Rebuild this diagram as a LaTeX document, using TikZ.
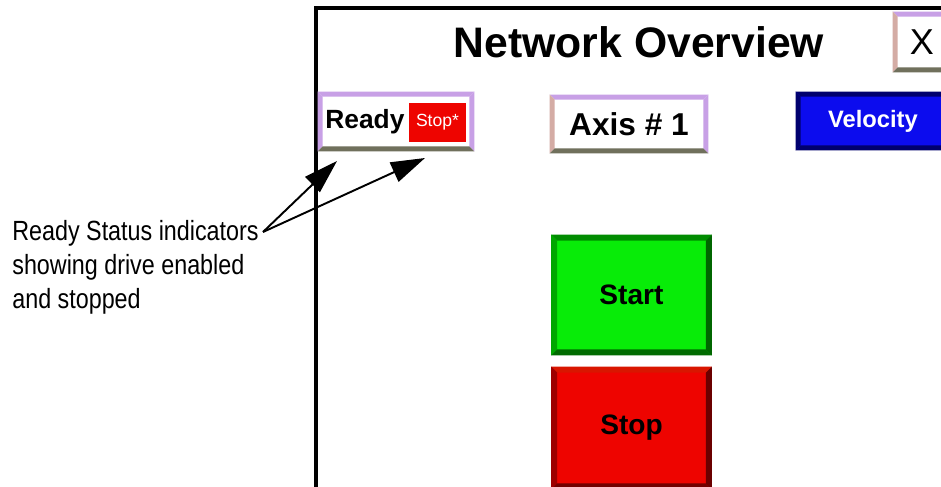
\documentclass[tikz,border=0pt]{standalone}
\usepackage{fontspec}
\setmainfont{Liberation Sans}
\newfontfamily\notefont[FakeStretch=0.84]{Liberation Sans}
\usetikzlibrary{arrows.meta}

\definecolor{lavender}{RGB}{200,160,230}
\definecolor{rosetan}{RGB}{212,172,165}
\definecolor{olivegray}{RGB}{112,112,92}
\definecolor{scrgreen}{RGB}{8,236,8}
\definecolor{scrred}{RGB}{238,4,0}
\definecolor{scrblue}{RGB}{12,12,238}
\definecolor{navy}{RGB}{0,0,110}

% bevel edges on a button: node, top, left, right, bottom, width
\newcommand{\bevel}[6]{%
  \fill[#2] (#1.north west) -- (#1.north east) -- ([shift={(-#6,#6)}]#1.north east) -- ([shift={(#6,#6)}]#1.north west) -- cycle;
  \fill[#3] (#1.north west) -- ([shift={(#6,#6)}]#1.north west) -- ([shift={(#6,-#6)}]#1.south west) -- (#1.south west) -- cycle;
  \fill[#4] (#1.north east) -- (#1.south east) -- ([shift={(-#6,-#6)}]#1.south east) -- ([shift={(-#6,#6)}]#1.north east) -- cycle;
  \fill[#5] (#1.south west) -- (#1.south east) -- ([shift={(-#6,-#6)}]#1.south east) -- ([shift={(#6,-#6)}]#1.south west) -- cycle;
}

\begin{document}
\begin{tikzpicture}[x=0.02cm,y=-0.02cm,
    every node/.style={inner sep=0pt},
    button/.style={fill=white, minimum width=3.16cm, minimum height=1.16cm},
    bigbutton/.style={minimum width=3.2cm, minimum height=2.4cm, font=\fontsize{16}{18}\selectfont\bfseries},
    note/.style={align=left, anchor=north west, font=\notefont\fontsize{15.8}{19.3}\selectfont},
    pointer/.style={line width=1.1pt, -{Triangle[length=0.68cm,width=0.42cm]}}]
  \clip (0,0) rectangle (941,487);
  \fill[white] (0,0) rectangle (941,487);
  \draw[line width=2.2pt] (316,495) -- (316,8) -- (955,8);
  \node[font=\fontsize{24.3}{28}\selectfont\bfseries] (title) at (639,42) {Network Overview};
  \node[button, minimum width=1.16cm, minimum height=1.2cm] (closebtn) at (922,42) {\fontsize{20.5}{24}\selectfont X};
  \bevel{closebtn}{lavender}{rosetan}{lavender}{olivegray}{5}
  \node[button, minimum width=3.12cm, minimum height=1.18cm] (readybox) at (396,121.5) {};
  \bevel{readybox}{lavender}{lavender}{lavender}{olivegray}{5}
  \node[font=\fontsize{15}{18}\selectfont\bfseries, anchor=west] (readytxt) at (325,122) {Ready};
  \node[fill=scrred, minimum width=1.14cm, minimum height=0.78cm, text=white, font=\fontsize{10}{12}\selectfont] (stopflag) at (437.5,122.5) {Stop*};
  \node[button] (axis) at (629,124) {\fontsize{18}{21}\selectfont\bfseries Axis \# 1};
  \bevel{axis}{lavender}{rosetan}{lavender}{olivegray}{5}
  \node[button, fill=scrblue, minimum width=3.08cm, text=white, font=\fontsize{13.5}{16}\selectfont\bfseries] (velocity) at (873,121) {Velocity};
  \bevel{velocity}{navy}{navy}{navy}{navy}{5}
  \node[bigbutton, fill=scrgreen] (start) at (631.5,295) {Start};
  \bevel{start}{green!55!black}{green!65!black}{green!40!black}{green!42!black}{6}
  \node[bigbutton, fill=scrred, minimum height=2.44cm] (stop) at (631.5,428) {Stop};
  \bevel{stop}{red!80!orange!85!black}{red!62!black}{red!42!black}{red!45!black}{6}
  \node[note] (status) at (12,220) {Ready Status indicators\\showing drive enabled\\and stopped};
  \coordinate (notept) at (263,232);
  \coordinate (tipa) at (337,161);
  \coordinate (tipb) at (425,158);
  \draw[pointer] (notept) -- (tipa);
  \draw[pointer] (notept) -- (tipb);
\end{tikzpicture}
\end{document}
